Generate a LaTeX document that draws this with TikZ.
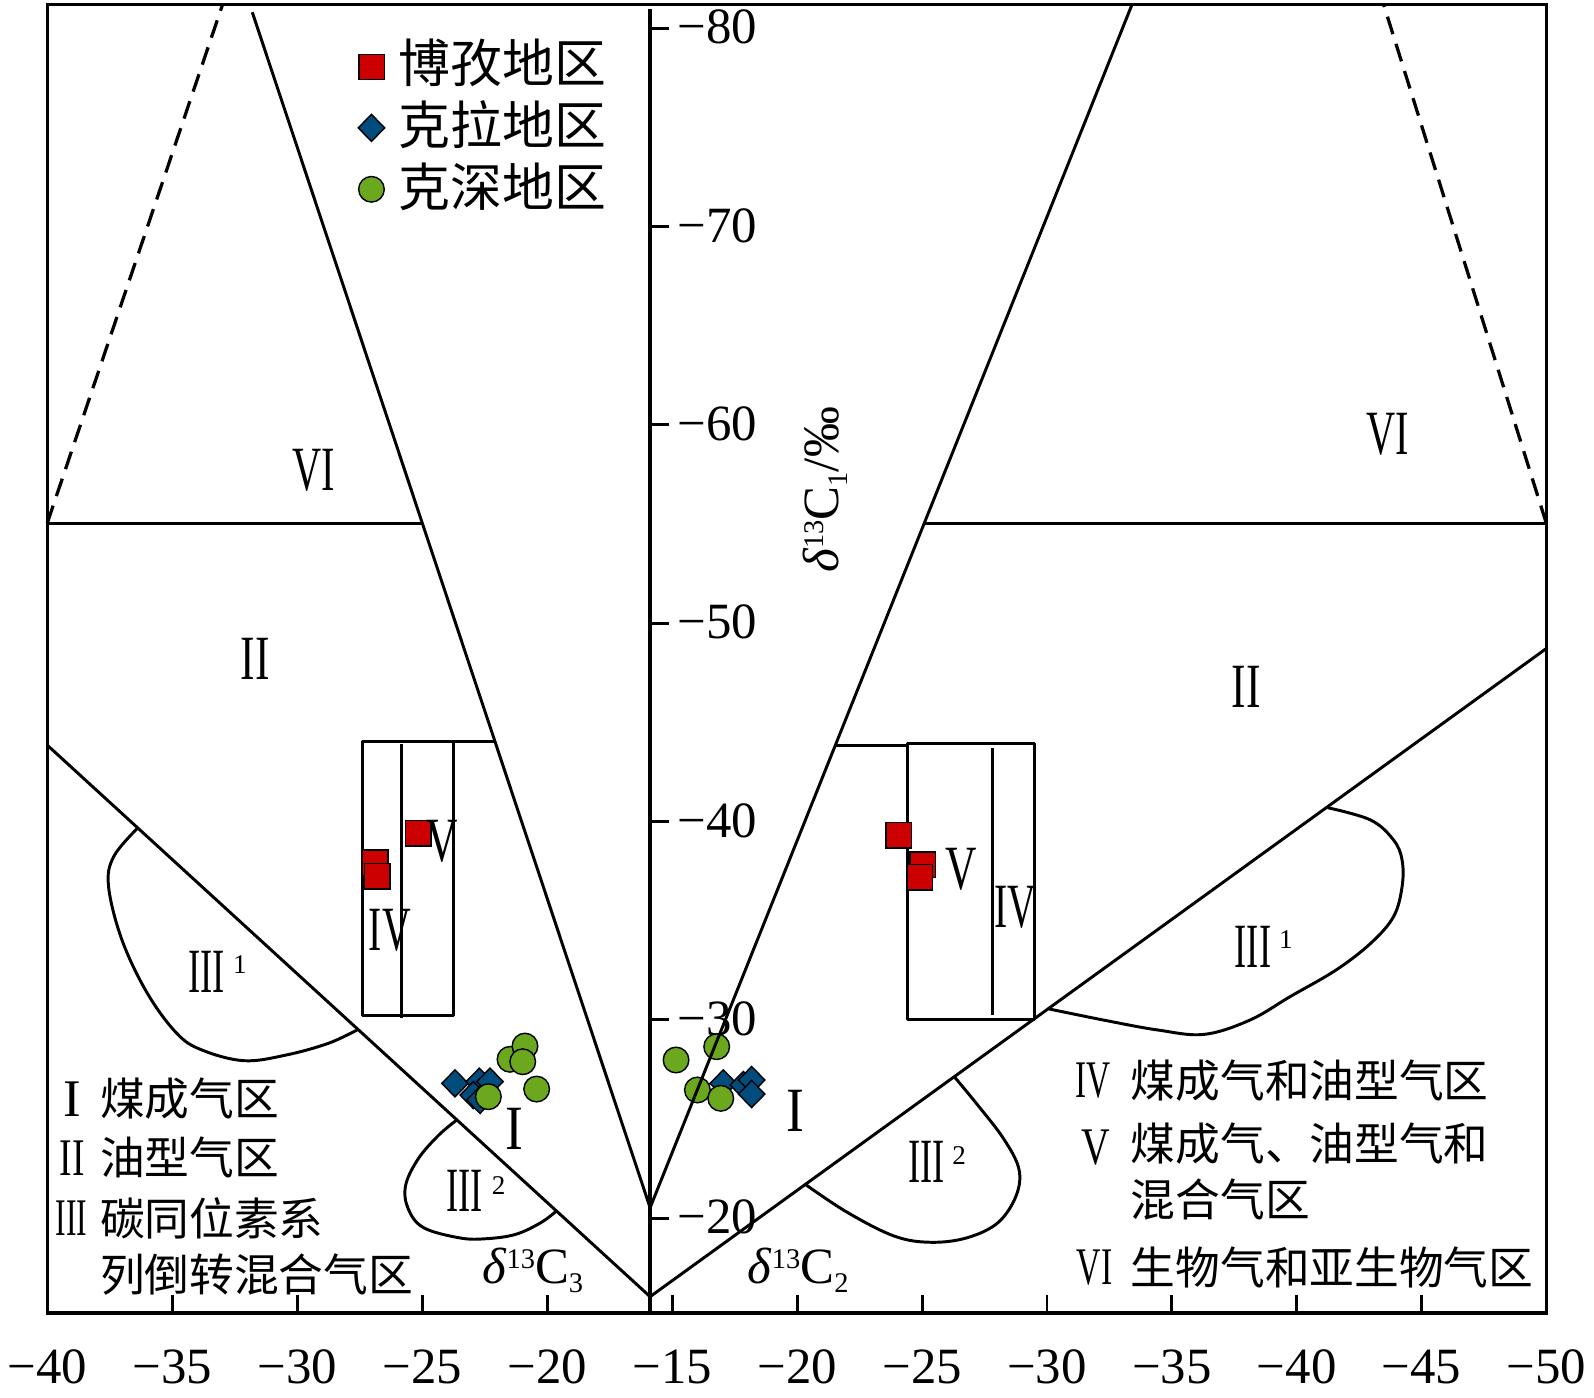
\documentclass[tikz,border=0pt]{standalone}
\usepackage{fontspec}
\setmainfont{Liberation Serif}
\newfontfamily\cjkfont{Noto Sans CJK SC}
\usepackage{graphicx}
\usetikzlibrary{shapes.geometric}
\definecolor{bzred}{RGB}{204,0,0}
\definecolor{klblue}{RGB}{0,76,125}
\definecolor{ksgreen}{RGB}{108,168,30}
\newcommand{\RN}[2]{\scalebox{#1}[1]{#2}}
\newcommand{\dlab}[1]{\textit{δ}\raisebox{7.5pt}{\fontsize{14pt}{16pt}\selectfont 13}C\raisebox{-4.5pt}{\fontsize{14pt}{16pt}\selectfont #1}}
\begin{document}
\begin{tikzpicture}[x=0.5pt,y=-0.5pt,
  ln/.style={line width=1.45pt, line join=round},
  frm/.style={line width=1.7pt},
  dsh/.style={line width=1.6pt, dash pattern=on 9pt off 5pt},
  sqm/.style={rectangle, draw=black, line width=0.7pt, fill=bzred, minimum size=12.5pt, inner sep=0pt},
  dmm/.style={diamond, draw=black, line width=0.7pt, fill=klblue, minimum width=13.3pt, minimum height=13.6pt, inner sep=0pt},
  crm/.style={circle, draw=black, line width=0.7pt, fill=ksgreen, minimum size=12.6pt, inner sep=0pt},
  num/.style={font=\fontsize{25pt}{30pt}\selectfont, inner sep=0pt},
  rn/.style={font=\fontsize{31pt}{36pt}\selectfont, inner sep=0pt},
  rnz/.style={font=\fontsize{26pt}{30pt}\selectfont, inner sep=0pt},
  supr/.style={font=\fontsize{13.3pt}{15pt}\selectfont, inner sep=0pt},
  zt/.style={font=\cjkfont\fontsize{22pt}{26pt}\selectfont, inner sep=0pt, anchor=west},
  lt/.style={font=\cjkfont\fontsize{25.5pt}{30pt}\selectfont, inner sep=0pt, anchor=west}
]
\useasboundingbox (0,0) rectangle (1568,1375);
\fill[white] (0,0) rectangle (1568,1375);

% key points
\coordinate (TL) at (46.5,4.3);
\coordinate (BR) at (1521,1291.6);
\coordinate (Atop) at (639.5,9);
\coordinate (Abot) at (639.5,1291.6);
\coordinate (Vx) at (639.5,1275.5);
\coordinate (Sx) at (639.5,1188);
\coordinate (LS) at (248.2,12.1);
\coordinate (RS) at (1113.6,4.3);
\coordinate (LV) at (46.5,733);
\coordinate (RV) at (1521,638);
\coordinate (LH1) at (46.5,514.5);
\coordinate (LH2) at (415.3,514.5);
\coordinate (RH1) at (909.3,514.5);
\coordinate (RH2) at (1521,514.5);
\coordinate (LD) at (219,4.3);
\coordinate (RD) at (1361,4.3);

% frame and axis
\draw[frm] (TL) rectangle (BR);
\draw[frm] (Atop) -- (Abot);
\foreach \yy/\t in {27.9/80, 222.95/70, 418/60, 613.05/50, 808.1/40, 1003.15/30, 1198.2/20}{
  \draw[ln] (639.5,\yy) -- (658,\yy);
  \node[num, anchor=west] (yl\t) at (666,\yy-1) {−\t};
}
\foreach \xx in {169.5,292.5,415.5,538.5,661.5,784.3,907.1,1029.9,1152.7,1275.5,1398.3}{
  \draw[ln] (\xx,1291.6) -- (\xx,1273.5);
}
\foreach \xx/\t/\n in {46.5/40/a, 169.5/35/b, 292.5/30/c, 415.5/25/d, 538.5/20/e, 661.5/15/f,
  784.3/20/g, 907.1/25/h, 1029.9/30/i, 1152.7/35/j, 1275.5/40/k, 1398.3/45/l, 1521.1/50/m}{
  \node[num] (xl\n) at (\xx,1344.6) {−\t};
}

% dashed and horizontal boundaries
\draw[dsh] (LH1) -- (LD);
\draw[dsh] (RH2) -- (RD);
\draw[ln] (LH1) -- (LH2);
\draw[ln] (RH1) -- (RH2);

% rectangles
\draw[ln] (357,729.5) rectangle (446,998.6);
\draw[ln] (394.6,732) -- (394.6,1001.7);
\draw[ln] (446,729.5) -- (486.9,729.5);
\draw[ln] (892.5,731.5) rectangle (1017.8,1002.7);
\draw[ln] (976.6,736) -- (976.6,998.6);
\draw[ln] (821.4,733.5) -- (892.5,733.5);

% III regions
\draw[ln] plot[smooth, tension=0.6] coordinates {(135.4,814.6) (111.8,842.7) (106.8,872.2) (120,924.7) (144.9,977) (173.9,1016.5) (198.7,1032.9) (240,1043.4) (281.5,1037.8) (323,1026.3) (351.9,1012.8)};
\draw[ln] plot[smooth, tension=0.6] coordinates {(449,1102) (431.6,1116.6) (411.6,1139.6) (399,1166) (401.5,1189) (416.6,1207.6) (451.6,1217.6) (476.8,1218.6) (507,1214.3) (532,1202.7) (547,1191.5)};
\draw[ln] plot[smooth, tension=0.6] coordinates {(1305.9,794.5) (1348.2,806.6) (1370.8,826.3) (1379.2,846) (1379.2,872.2) (1370.8,901.7) (1348.2,928) (1314.2,954.2) (1269,980.4) (1229.6,1003.4) (1184.4,1017.5) (1139,1013.2) (1088.5,1004) (1032,992.5)};
\draw[ln] plot[smooth, tension=0.6] coordinates {(939,1059.5) (961.4,1086.6) (987,1119.8) (1002.2,1149.6) (999.6,1176.1) (981.7,1202.7) (951.2,1217.6) (915.4,1222) (879.6,1215.9) (833.7,1192.7) (792.5,1165.3)};

% data: Bozi
\node[sqm] (bz1) at (411.3,819.8) {};
\node[sqm] (bz2) at (369.2,848.5) {};
\node[sqm] (bz3) at (371.2,862) {};
\node[sqm] (bz4) at (884,821.6) {};
\node[sqm] (bz5) at (907.8,850.4) {};
\node[sqm] (bz6) at (905,863) {};
% data: Kela
\node[dmm] (kl1) at (447.6,1065.7) {};
\node[dmm] (kl2) at (471.5,1064) {};
\node[dmm] (kl3) at (482,1064) {};
\node[dmm] (kl4) at (465.6,1077.2) {};
\node[dmm] (kl5) at (472.2,1082) {};
\node[dmm] (kl6) at (711.5,1065.7) {};
\node[dmm] (kl7) at (731.2,1067.3) {};
\node[dmm] (kl8) at (739.4,1062.4) {};
\node[dmm] (kl9) at (739.4,1076.2) {};
% data: Keshen
\node[crm] (ks1) at (501.7,1042) {};
\node[crm] (ks2) at (516.4,1029) {};
\node[crm] (ks3) at (514.2,1044.4) {};
\node[crm] (ks4) at (527.9,1071.3) {};
\node[crm] (ks5) at (480.4,1078.8) {};
\node[crm] (ks6) at (665,1042.7) {};
\node[crm] (ks7) at (705,1029.6) {};
\node[crm] (ks8) at (686,1072.2) {};
\node[crm] (ks9) at (709,1080.4) {};

% main boundary lines (on top)
\draw[ln] (LS) -- (Sx) -- (RS);
\draw[ln] (LV) -- (Vx) -- (RV);

% legend (top)
\node[sqm] (lg1) at (365.6,65.9) {};
\node[dmm] (lg2) at (365.4,125.8) {};
\node[crm] (lg3) at (365.4,186.2) {};
\node[lt] (lgt1) at (392,62.3) {博孜地区};
\node[lt] (lgt2) at (392,123) {克拉地区};
\node[lt] (lgt3) at (392,183.6) {克深地区};

% zone labels in plot
\node[rn] (r6l) at (309,463) {\RN{0.64}{VI}};
\node[rn] (r6r) at (1365,427) {\RN{0.64}{VI}};
\node[rn] (r2l) at (251,648) {\RN{0.69}{II}};
\node[rn] (r2r) at (1226,676) {\RN{0.69}{II}};
\node[rn] (r4l) at (383.4,915) {\RN{0.63}{IV}};
\node[rn] (r4r) at (998.7,893) {\RN{0.63}{IV}};
\node[rn] (r5l) at (435.3,827.5) {\RN{0.69}{V}};
\node[rn] (r5r) at (946,855) {\RN{0.69}{V}};
\node[rn] (r31l) at (203,956) {\RN{0.58}{III}};
\node[supr] (s31l) at (236,948.5) {1};
\node[rn] (r31r) at (1232.5,931) {\RN{0.58}{III}};
\node[supr] (s31r) at (1265,924) {1};
\node[rn] (r32l) at (456.7,1171) {\RN{0.58}{III}};
\node[supr] (s32l) at (490.6,1166) {2};
\node[rn] (r32r) at (911.5,1143) {\RN{0.58}{III}};
\node[supr] (s32r) at (943.5,1137) {2};
\node[rn] (r1l) at (505.6,1110) {\RN{0.85}{I}};
\node[rn] (r1r) at (782.7,1092.3) {\RN{0.85}{I}};

% axis titles
\node[num, anchor=base west] (xt3) at (474,1262.5) {\dlab{3}};
\node[num, anchor=base west] (xt2) at (735,1262.5) {\dlab{2}};
\node[num, rotate=90, anchor=base west] (ytl) at (824.7,564) {\dlab{1}/‰};

% zone legend left
\node[rnz] (zl1) at (71.5,1081.5) {I};
\node[zt] (zlt1) at (98,1080.5) {煤成气区};
\node[rnz] (zl2) at (71,1139) {\RN{0.71}{II}};
\node[zt] (zlt2) at (98,1139) {油型气区};
\node[rnz] (zl3) at (70.3,1198.5) {\RN{0.6}{III}};
\node[zt] (zlt3) at (98,1198.5) {碳同位素系};
\node[zt] (zlt4) at (98,1254) {列倒转混合气区};
% zone legend right
\node[rnz] (zr4) at (1075.5,1062.5) {\RN{0.63}{IV}};
\node[zt] (zrt4) at (1112,1063) {煤成气和油型气区};
\node[rnz] (zr5) at (1077.5,1128.9) {\RN{0.75}{V}};
\node[zt] (zrt5) at (1112,1124.7) {煤成气、油型气和};
\node[zt] (zrt5b) at (1112,1180) {混合气区};
\node[rnz] (zr6) at (1076.8,1246.7) {\RN{0.64}{VI}};
\node[zt] (zrt6) at (1112,1246.7) {生物气和亚生物气区};
\end{tikzpicture}
\end{document}
